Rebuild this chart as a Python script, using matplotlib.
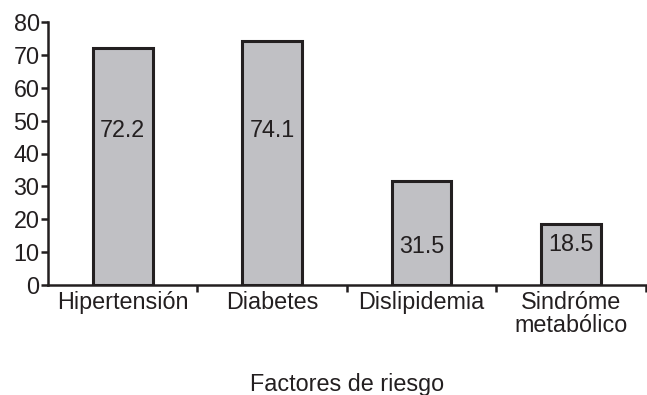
import numpy as np
import matplotlib.pyplot as plt

plt.rcParams['font.family'] = ['Liberation Sans', 'DejaVu Sans']

categorias = ['Hipertensión', 'Diabetes', 'Dislipidemia', 'Sindróme\nmetabólico']
valores = [72.2, 74.1, 31.5, 18.5]
# altura donde va cada etiqueta dentro de la barra
pos_etiqueta = [47, 47, 11.8, 12.2]

NEGRO = '#231f20'
GRIS = '#c0c0c4'
TAM = 16.8

fig = plt.figure(figsize=(6.47, 3.95), dpi=100)
ax = fig.add_axes([48/647, 1 - 285/395, 1 - 48/647 - 0.002, (285 - 22)/395])

x = np.arange(len(categorias))
ax.bar(x, valores, width=0.4, color=GRIS, edgecolor=NEGRO, linewidth=2.2, zorder=3)
for xi, v, yl in zip(x, valores, pos_etiqueta):
    ax.text(xi, yl, f'{v:.1f}', ha='center', va='center', fontsize=TAM, color=NEGRO, zorder=4)

ax.set_xlim(-0.5, len(categorias) - 0.5)
ax.set_ylim(0, 80)
ax.set_yticks(np.arange(0, 81, 10))

# marcas entre categorías, nombres centrados
ax.set_xticks(np.arange(len(categorias)) + 0.5)
ax.set_xticklabels([])
ax.set_xticks(x, minor=True)
ax.set_xticklabels(categorias, minor=True, fontsize=TAM, color=NEGRO, linespacing=1.05)
ax.tick_params(axis='x', which='minor', length=0, pad=4)
ax.tick_params(axis='x', which='major', length=5, width=1.8, color=NEGRO)
ax.tick_params(axis='y', length=5, width=1.8, color=NEGRO, labelsize=TAM, labelcolor=NEGRO, pad=1)

for s in ['top', 'right']:
    ax.spines[s].set_visible(False)
for s in ['left', 'bottom']:
    ax.spines[s].set_linewidth(1.8)
    ax.spines[s].set_color(NEGRO)

fig.text((48 + 647) / 2 / 647, 1 - 384/395, 'Factores de riesgo', ha='center', va='center',
         fontsize=TAM, color=NEGRO)

fig.savefig('out.png', dpi=100)
